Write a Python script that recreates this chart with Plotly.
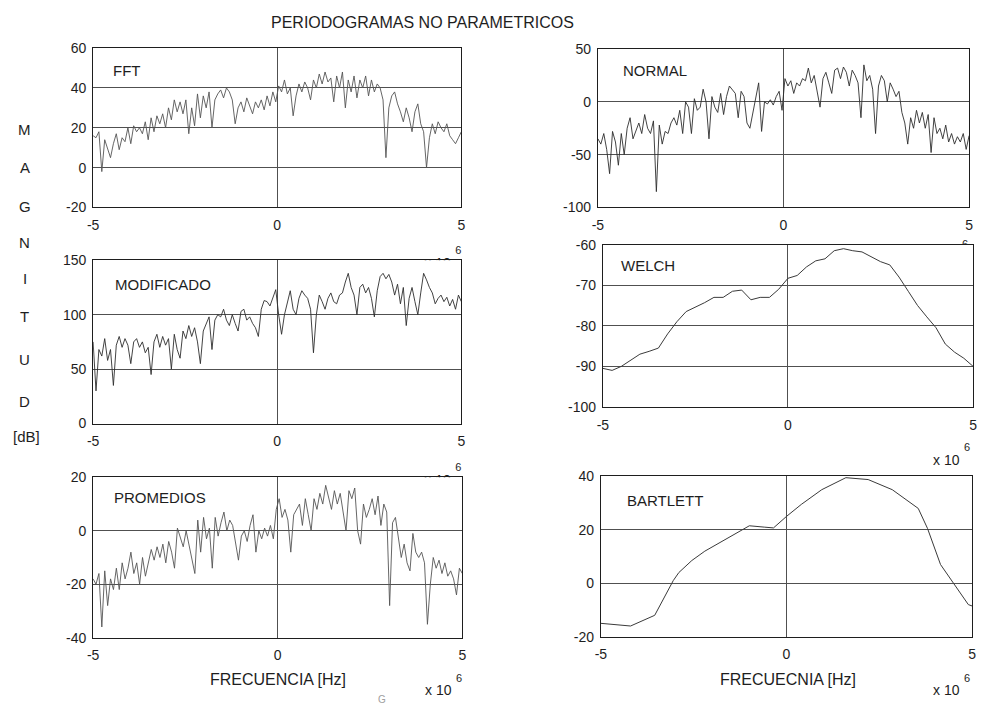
import numpy as np
import plotly.graph_objects as go

# ---------------------------------------------------------------------------
# Periodogram estimates (dB) over -5 .. 5 x 10^6 Hz
# ---------------------------------------------------------------------------
fft_db = [
    16, 15, 18, -2, 14, 10, 5, 12, 17, 9, 15, 13, 20, 12, 21, 18,
    20, 17, 23, 14, 25, 18, 26, 22, 27, 20, 30, 24, 34, 28, 33, 27,
    34, 17, 30, 21, 37, 25, 36, 30, 38, 20, 34, 37, 39, 35, 40, 38,
    34, 22, 30, 33, 28, 35, 31, 27, 33, 30, 34, 29, 36, 31, 38, 33,
    41, 38, 44, 37, 40, 26, 36, 42, 38, 43, 40, 34, 44, 40, 47, 42,
    48, 43, 45, 33, 46, 40, 48, 30, 44, 38, 46, 35, 44, 40, 46, 36,
    44, 38, 42, 40, 34, 5, 30, 36, 38, 32, 28, 23, 30, 25, 18, 28,
    32, 22, 18, 0, 15, 22, 17, 23, 20, 18, 22, 16, 14, 12, 15, 18,
]

normal_db = [
    -35, -40, -30, -45, -68, -28, -38, -60, -30, -50, -25, -15, -35, -28, -20, -30,
    -12, -25, -30, -18, -85, -22, -40, -28, -30, -20, -15, -22, -8, -30, 0, -5,
    -30, 3, -8, -5, 12, 0, -35, 5, -5, -10, 8, -12, 5, 15, 12, 8,
    -15, 10, 5, -20, -25, -10, 5, 18, -28, 0, -2, 2, -3, 5, 10, -8,
    22, 15, 20, 8, 18, 15, 22, 20, 32, 18, 25, 10, -5, 22, 28, 18,
    8, 30, 32, 22, 33, 28, 15, 30, 25, 18, -15, 35, 20, 25, 12, -30,
    15, 25, 20, 0, 18, 12, 5, 10, -10, -20, -40, -15, -25, -8, -20, -10,
    -25, -12, -48, -15, -30, -25, -35, -22, -38, -30, -40, -33, -38, -30, -45, -32,
]

modificado_db = [
    75, 30, 68, 62, 78, 58, 68, 35, 72, 80, 70, 78, 72, 55, 75, 78,
    70, 75, 65, 70, 45, 75, 82, 70, 80, 72, 78, 50, 82, 68, 60, 85,
    78, 90, 80, 88, 75, 55, 85, 92, 98, 68, 95, 100, 98, 105, 95, 90,
    100, 92, 85, 103, 105, 95, 98, 92, 88, 80, 105, 113, 112, 108, 115, 123,
    100, 82, 100, 110, 122, 105, 100, 115, 122, 118, 115, 105, 65, 100, 118, 112,
    105, 115, 120, 112, 110, 118, 120, 130, 138, 125, 118, 100, 125, 128, 120, 125,
    115, 98, 122, 135, 138, 133, 137, 130, 118, 128, 110, 125, 90, 115, 125, 112,
    100, 120, 138, 132, 125, 120, 110, 115, 118, 112, 116, 108, 114, 105, 118, 112,
]

promedios_db = [
    -18, -20, -16, -36, -15, -28, -18, -22, -14, -22, -12, -18, -14, -8, -16, -12,
    -20, -10, -17, -12, -7, -11, -6, -10, -5, -12, -4, -8, -14, 1, -3, -6,
    0, -5, -10, -16, 4, -8, 5, -3, 1, -14, 5, -2, 3, 7, 0, 4,
    2, -5, -11, -2, 0, -4, 2, 6, -8, 0, -3, 1, -2, 2, -3, 8,
    12, 5, 8, 4, -8, 6, 8, 10, 2, 12, 6, 0, 12, 8, 14, 10,
    17, 12, 8, 15, 10, 14, 6, 0, 15, 12, 16, 0, -5, 10, 5, 8,
    12, 6, 13, 2, 10, 7, -28, 3, 5, -2, -10, -5, -12, -15, -1, -8,
    -10, -8, -12, -35, -20, -10, -14, -11, -16, -12, -17, -15, -18, -24, -14, -16,
]

welch_db = [
    -90.5, -91, -90, -88.5, -87, -86.3, -85.5, -82, -79, -76.5,
    -75.5, -74.3, -73, -73, -71.5, -71.2, -73.6, -73, -73, -71,
    -68.3, -67.6, -65.5, -64, -63.5, -61.5, -61, -61.5, -61.8, -63,
    -64.2, -65, -68, -71.5, -75, -77.8, -80.5, -84.5, -86.5, -88, -90,
]

bartlett_freq = [-5.0, -4.2, -3.55, -3.05, -2.9, -2.55, -2.2, -1.5, -1.0, -0.6,
                 -0.35, 0.0, 0.4, 0.95, 1.6, 2.2, 2.85, 3.55, 3.8, 4.15, 4.5, 4.9, 5.0]
bartlett_db = [-15, -16, -12, 1, 4, 8.5, 12, 17.5, 21.5, 21, 20.7, 25, 29.5, 35,
               39.5, 38.8, 35, 28, 20.5, 7, 0, -8, -8.5]

# frequency grids, in units of 10^6 Hz
freq = np.linspace(-5, 5, len(fft_db))
welch_freq = np.linspace(-5, 5, len(welch_db))

# ---------------------------------------------------------------------------
W, H = 983, 719
FONT = "Arial, 'Liberation Sans', sans-serif"
INK = "#1e1e1e"
GRID = "#505050"

fig = go.Figure()
annotations = []


def names(n):
    s = "" if n == 1 else str(n)
    return "xaxis" + s, "yaxis" + s, "x" + s, "y" + s


def paper(px, py):
    return px / W, 1 - py / H


def note(text, px, py, size, xanchor="center", color=INK):
    x, y = paper(px, py)
    annotations.append(dict(text=text, x=x, y=y, xref="paper", yref="paper",
                            xanchor=xanchor, yanchor="middle", showarrow=False,
                            font=dict(family=FONT, size=size, color=color)))


def add_panel(n, box, fx, fy, yticks, label, label_pos, color, width):
    x0, y0, x1, y1 = box
    xa, ya, xr, yr = names(n)
    fig.add_trace(go.Scatter(x=fx, y=fy, mode="lines", xaxis=xr, yaxis=yr,
                             line=dict(color=color, width=width),
                             hoverinfo="skip", showlegend=False))
    tick_font = dict(family=FONT, size=14, color=INK)
    common = dict(showgrid=True, gridcolor=GRID, gridwidth=1, showline=True,
                  mirror=True, linecolor=INK, linewidth=1, zeroline=False,
                  ticks="", tickfont=tick_font, fixedrange=True)
    fig.update_layout({
        xa: dict(domain=[x0 / W, x1 / W], range=[-5, 5], anchor=yr,
                 tickvals=[-5, 0, 5], ticktext=["-5", "0", "5"],
                 ticklabelstandoff=5, **common),
        ya: dict(domain=[1 - y1 / H, 1 - y0 / H],
                 range=[yticks[0], yticks[-1]], anchor=xr,
                 tickvals=yticks, ticktext=[str(v) for v in yticks],
                 ticklabelstandoff=3, **common),
    })
    note(label, label_pos[0], label_pos[1], 15, xanchor="left")


def add_exponent_box(n, cx, cy):
    """'x 10^6' multiplier in its own small subplot, so the panel drawn
    after it (with its own background) hides whatever falls beneath it."""
    xa, ya, xr, yr = names(n)
    x0, x1, y0, y1 = cx - 32, cx + 34, cy - 30, cy + 12
    fig.add_trace(go.Scatter(x=[cx, cx + 21], y=[cy, cy - 13], mode="text",
                             text=["x 10", "6"], textposition="middle center",
                             textfont=dict(family=FONT, size=[14, 11], color=INK),
                             xaxis=xr, yaxis=yr, hoverinfo="skip",
                             showlegend=False))
    fig.update_layout({
        xa: dict(domain=[x0 / W, x1 / W], range=[x0, x1], visible=False,
                 anchor=yr, fixedrange=True),
        ya: dict(domain=[1 - y1 / H, 1 - y0 / H], range=[y1, y0],
                 visible=False, anchor=xr, fixedrange=True),
    })


def exponent_note(cx, cy):
    note("x 10", cx, cy, 14)
    note("6", cx + 21, cy - 13, 11)


TRACE_DARK = "#2e2e2e"
TRACE_SOFT = "#555555"

add_panel(1, (88, 41, 460, 204), freq, fft_db, [-20, 0, 20, 40, 60],
          "FFT", (106, 64), TRACE_SOFT, 0.9)
add_panel(2, (598, 42, 973, 204), freq, normal_db, [-100, -50, 0, 50],
          "NORMAL", (621, 64), TRACE_DARK, 0.9)
add_exponent_box(3, 436, 262)
add_exponent_box(4, 948, 256)
add_panel(5, (88, 258, 460, 425), freq, modificado_db, [0, 50, 100, 150],
          "MODIFICADO", (108, 283), TRACE_DARK, 0.9)
add_panel(6, (603, 242, 977, 408), welch_freq, welch_db,
          [-100, -90, -80, -70, -60], "WELCH", (619, 263), "#3a3a3a", 1)
add_exponent_box(7, 436, 484)
add_panel(8, (88, 480, 461, 644), freq, promedios_db, [-40, -20, 0, 20],
          "PROMEDIOS", (107, 501), TRACE_SOFT, 0.9)
add_panel(9, (601, 479, 976, 643), bartlett_freq, bartlett_db,
          [-20, 0, 20, 40], "BARTLETT", (625, 504), "#3a3a3a", 1)

exponent_note(950, 462)
exponent_note(437, 698)
exponent_note(950, 698)

# figure title and axis captions
note("PERIODOGRAMAS NO PARAMETRICOS", 421, 15, 16)
note("FRECUENCIA [Hz]", 275, 687, 16)
note("FRECUECNIA [Hz]", 790, 687, 16)

for letter, py in zip(["M", "A", "G", "N", "I", "T", "U", "D"],
                      [124, 163, 203, 240, 277, 316, 359, 402]):
    note(letter, 19, py, 15)
note("[dB]", 21, 438, 15)
note("G", 380, 707, 10, color="#a0a0a0")

fig.update_layout(width=W, height=H, margin=dict(l=0, r=0, t=0, b=0),
                  paper_bgcolor="white", plot_bgcolor="white",
                  showlegend=False, annotations=annotations,
                  font=dict(family=FONT, color=INK))

fig.write_html("out.html")
